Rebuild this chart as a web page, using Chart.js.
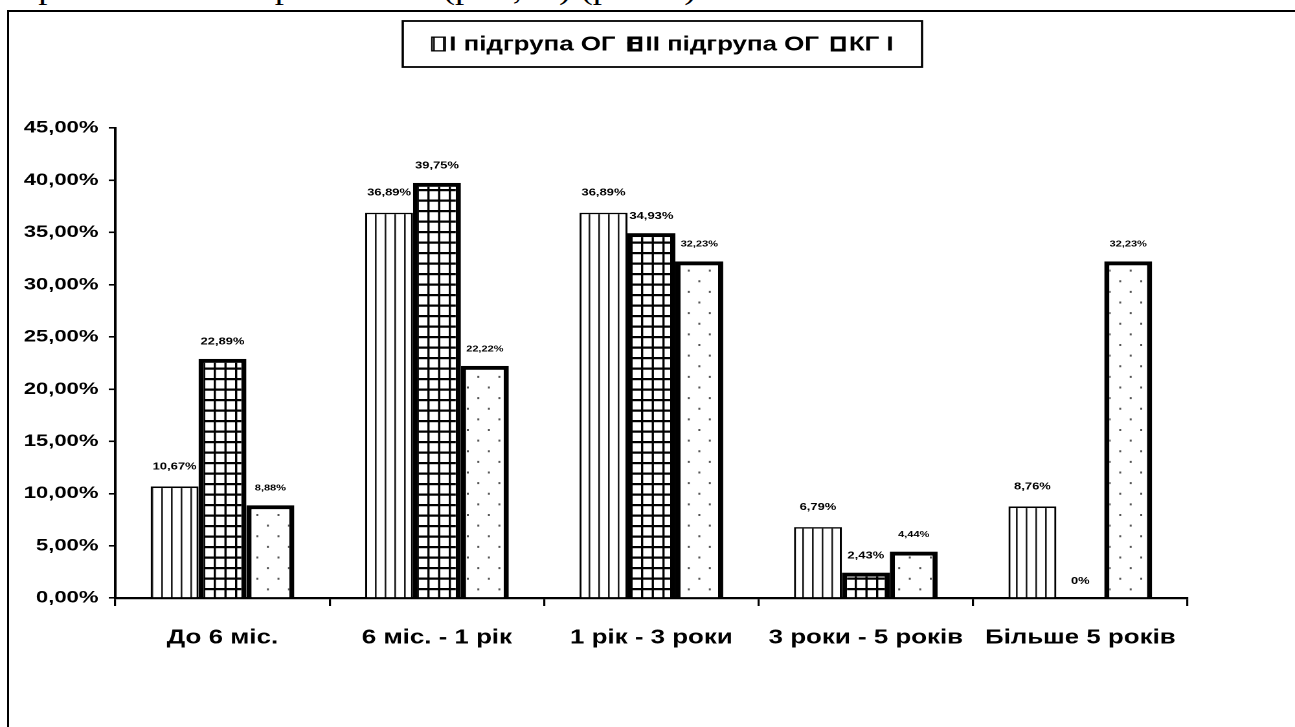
<!DOCTYPE html>
<html>
<head>
<meta charset="utf-8">
<script src="https://cdn.jsdelivr.net/npm/chart.js@4.4.1/dist/chart.umd.min.js"></script>
<style>
  html, body { margin: 0; padding: 0; background: #fff; overflow: hidden; }
  body { width: 1295px; height: 727px; position: relative; }
  #topline { position: absolute; left: 0px; top: -26px; font: 30px "Liberation Serif", serif; line-height: 30px;
             white-space: nowrap; transform: scaleX(1.23); transform-origin: 0 0; }
  #frame { position: absolute; left: 7px; top: 10px; width: 1400px; height: 800px;
           border-left: 2px solid #000; border-top: 2px solid #000; background: transparent; }
  #chart { position: absolute; left: 0; top: 0; width: 1295px !important; height: 727px !important; }
</style>
</head>
<body>
<div id="topline">порівнянні з контрольною І (р&lt;0,05) (рис. 1).</div>
<div id="frame"></div>
<canvas id="chart" width="1000" height="727"></canvas>
<script>
// data
var categories = ["До 6 міс.", "6 міс. - 1 рік", "1 рік - 3 роки", "3 роки - 5 років", "Більше 5 років"];
var seriesNames = ["I підгрупа ОГ", "II підгрупа ОГ", "КГ I"];
var subgroup1 = [10.67, 36.89, 36.89, 6.79, 8.76];
var subgroup2 = [22.89, 39.75, 34.93, 2.43, 0];
var control1 = [8.88, 22.22, 32.23, 4.44, 32.23];
var yMin = 0, yMax = 45, yStep = 5;

var FONT = '"Liberation Sans", Arial, sans-serif';

function fmtPct(v) {
  if (v === 0) return "0%";
  return v.toFixed(2).replace(".", ",") + "%";
}

// hatch patterns (drawn supersampled, then scaled back)
function makePattern(w, h, draw) {
  var s = 4;
  var c = document.createElement("canvas");
  c.width = Math.round(w * s); c.height = Math.round(h * s);
  var g = c.getContext("2d");
  g.scale(s, s);
  g.fillStyle = "#fff";
  g.fillRect(0, 0, w, h);
  draw(g);
  var p = document.createElement("canvas").getContext("2d").createPattern(c, "repeat");
  p.setTransform(new DOMMatrix([1 / s, 0, 0, 1 / s, 0, 0]));
  return p;
}

var patLines = makePattern(7.5, 4, function (g) {
  g.fillStyle = "#1a1a1a";
  g.fillRect(4.5, 0, 1.3, 4);
});
var patGrid = makePattern(8.25, 10.5, function (g) {
  g.fillStyle = "#000";
  g.fillRect(0, 0, 1.7, 10.5);
  g.fillRect(0, 0, 8.25, 2.2);
});
var patDots = makePattern(16.25, 21.25, function (g) {
  g.fillStyle = "#555";
  g.fillRect(3, 4, 1.5, 2);
  g.fillRect(11.1, 14.6, 1.5, 2);
});

var patterns = [patLines, patGrid, patDots];
var borders = [1.6, 4, 4];
var labelSize = [10, 10, 8.5];
var labelGap = [20, 17, 17];

var barLabels = {
  id: "barLabels",
  afterDatasetsDraw: function (chart) {
    var ctx = chart.ctx;
    chart.data.datasets.forEach(function (ds, i) {
      var meta = chart.getDatasetMeta(i);
      meta.data.forEach(function (bar, j) {
        ctx.save();
        ctx.font = "bold " + labelSize[i] + "px " + FONT;
        ctx.fillStyle = "#000";
        ctx.textAlign = "center";
        ctx.textBaseline = "middle";
        ctx.fillText(fmtPct(ds.data[j]), bar.x, bar.y - labelGap[i]);
        ctx.restore();
      });
    });
  }
};

// boxed legend on top
var boxLegend = {
  id: "boxLegend",
  afterDraw: function (chart) {
    var ctx = chart.ctx;
    var bx = 311, by = 21, bw = 401, bh = 46;
    ctx.save();
    ctx.lineWidth = 1.8;
    ctx.strokeStyle = "#000";
    ctx.strokeRect(bx, by, bw, bh);
    ctx.font = "bold 20px " + FONT;
    var iw = 11.5, ih = 15, gapIcon = 2.5, gapItem = 9;
    var total = 0;
    seriesNames.forEach(function (n, i) {
      total += iw + gapIcon + ctx.measureText(n).width + (i < seriesNames.length - 1 ? gapItem : 0);
    });
    var x = bx + (bw - total) / 2;
    var cy = by + bh / 2;
    seriesNames.forEach(function (n, i) {
      ctx.fillStyle = patterns[i];
      ctx.fillRect(x, cy - ih / 2, iw, ih);
      ctx.lineWidth = i === 0 ? 1.3 : 2.8;
      ctx.strokeStyle = "#000";
      ctx.strokeRect(x + ctx.lineWidth / 2, cy - ih / 2 + ctx.lineWidth / 2, iw - ctx.lineWidth, ih - ctx.lineWidth);
      x += iw + gapIcon;
      ctx.fillStyle = "#000";
      ctx.textAlign = "left";
      ctx.textBaseline = "middle";
      ctx.fillText(n, x, cy + 1);
      x += ctx.measureText(n).width + gapItem;
    });
    ctx.restore();
  }
};

var values = [subgroup1, subgroup2, control1];

new Chart(document.getElementById("chart"), {
  type: "bar",
  data: {
    labels: categories,
    datasets: seriesNames.map(function (name, i) {
      return {
        label: name,
        data: values[i],
        backgroundColor: patterns[i],
        borderColor: "#000",
        borderWidth: borders[i],
        categoryPercentage: 0.67,
        barPercentage: 1
      };
    })
  },
  options: {
    responsive: false,
    animation: false,
    devicePixelRatio: 2,
    layout: { padding: { top: 128, right: 83, bottom: 0, left: 0 } },
    plugins: { legend: { display: false }, tooltip: { enabled: false } },
    scales: {
      x: {
        grid: { drawOnChartArea: false, drawTicks: true, tickLength: 8, color: "#000", lineWidth: 1.6, offset: true },
        border: { display: true, color: "#000", width: 2.2 },
        ticks: { color: "#000", font: { family: FONT, size: 20, weight: "bold" }, padding: 20, maxRotation: 0, autoSkip: false },
        afterFit: function (s) { s.height = 129; }
      },
      y: {
        min: yMin, max: yMax,
        ticks: {
          stepSize: yStep,
          color: "#000",
          font: { family: FONT, size: 17, weight: "bold" },
          padding: 8,
          callback: function (v) { return v.toFixed(2).replace(".", ",") + "%"; }
        },
        grid: { drawOnChartArea: false, tickLength: 5, color: "#000", lineWidth: 1.6 },
        border: { color: "#000", width: 2 },
        afterFit: function (s) { s.width = 89; }
      }
    }
  },
  plugins: [barLabels, boxLegend]
});
</script>
</body>
</html>
